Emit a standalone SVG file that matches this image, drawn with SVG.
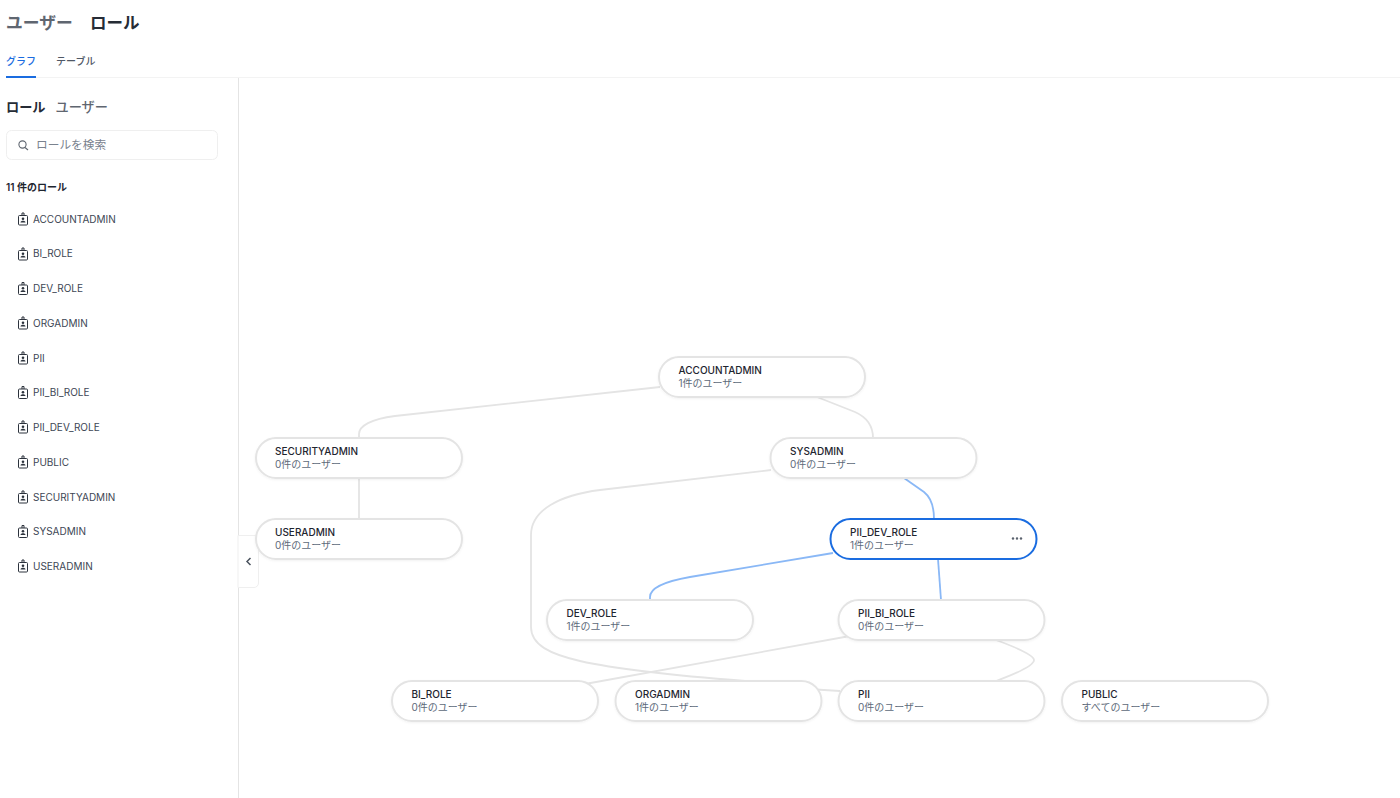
<svg xmlns="http://www.w3.org/2000/svg" width="1400" height="798" viewBox="0 0 1400 798">
<style>
text{font-family:Inter,"Noto Sans CJK JP","Noto Sans",sans-serif}
.t{font-size:10px;fill:#1e252f;font-weight:500}
.s{font-size:10px;fill:#5d6a7a}
.n{fill:#fff;stroke:#e4e4e4;stroke-width:2;filter:url(#sh)}
.c{fill:none;stroke:#e4e4e4;stroke-width:1.800}
.b{fill:none;stroke:#8ab8f6;stroke-width:1.800}
.i{font-size:10px;fill:#3d4654}
.ic{fill:none;stroke:#2c333d;stroke-width:1}
</style>
<defs>
<filter id="sh" x="-5%" y="-20%" width="110%" height="150%"><feDropShadow dx="0" dy="1" stdDeviation="1" flood-color="#000" flood-opacity=".05"/></filter>
<g id="badge"><rect x="-4.500" y="-3.500" width="9" height="9.500" rx="1" class="ic"/><path d="M-1 -3.500V-6H1V-3.500" class="ic"/><circle cx="0" cy="-.3" r="1.300" fill="#2c333d"/><path d="M-2.500 3.500C-2.500 1.300 2.500 1.300 2.500 3.500Z" fill="#2c333d"/></g>
</defs>
<rect width="1400" height="798" fill="#fff"/>
<g id="header">
<text x="6" y="29" font-size="16.800" font-weight="700" fill="#5f6670">ユーザー</text>
<text x="90" y="29" font-size="16.500" font-weight="700" fill="#262c36">ロール</text>
<text x="6" y="65" font-size="10" font-weight="500" fill="#1a6ce0">グラフ</text>
<text x="56" y="65" font-size="10" font-weight="500" fill="#4f5866">テーブル</text>
<rect x="6" y="76" width="30" height="2" fill="#1a6ce0"/>
<path d="M36 77.500H1400" stroke="#f3f3f3"/>
<path d="M238.500 78V798" stroke="#e4e4e4"/>
</g>
<g id="sidebar">
<text x="6" y="112" font-size="13.200" font-weight="700" fill="#262c36">ロール</text>
<text x="55.500" y="112" font-size="13.200" font-weight="500" fill="#5f6670">ユーザー</text>
<rect x="6.500" y="130.500" width="211" height="29" rx="5" fill="#fff" stroke="#efefef"/>
<circle cx="22.500" cy="144.500" r="3.600" fill="none" stroke="#5f6670" stroke-width="1.100"/>
<path d="M25 147.500L28 150" stroke="#5f6670" stroke-width="1.100"/>
<text x="36" y="149" font-size="11.700" fill="#7a828e">ロールを検索</text>
<text x="6" y="191" font-size="10" font-weight="600" fill="#1e252f">11 件のロール</text>
<use href="#badge" x="23" y="219"/><text class="i" x="33" y="222.500">ACCOUNTADMIN</text>
<use href="#badge" x="23" y="254"/><text class="i" x="33" y="257">BI_ROLE</text>
<use href="#badge" x="23" y="288.500"/><text class="i" x="33" y="292">DEV_ROLE</text>
<use href="#badge" x="23" y="323"/><text class="i" x="33" y="326.500">ORGADMIN</text>
<use href="#badge" x="23" y="358"/><text class="i" x="33" y="361.500">PII</text>
<use href="#badge" x="23" y="392.500"/><text class="i" x="33" y="396">PII_BI_ROLE</text>
<use href="#badge" x="23" y="427"/><text class="i" x="33" y="430.500">PII_DEV_ROLE</text>
<use href="#badge" x="23" y="462"/><text class="i" x="33" y="465.500">PUBLIC</text>
<use href="#badge" x="23" y="497"/><text class="i" x="33" y="500.500">SECURITYADMIN</text>
<use href="#badge" x="23" y="531.500"/><text class="i" x="33" y="535">SYSADMIN</text>
<use href="#badge" x="23" y="566"/><text class="i" x="33" y="569.500">USERADMIN</text>
</g>
<g id="connectors">
<path class="c" d="M359 438V434C359 426 371 419 395 416L660 387"/>
<path class="c" d="M817 397L855 412Q873 420 873 438"/>
<path class="c" d="M359 478V519"/>
<path class="c" d="M771 470L600 490C560 495 531 510 531 535V627C531 645 550 654 580 661C620 670 680 676 745 681"/>
<path class="b" d="M904 478L924 492Q934 500 934 519"/>
<path class="b" d="M833 553L690 577C670 580.500 650 586 650 597V600"/>
<path class="b" d="M938 559L941 600"/>
<path class="c" d="M850 636L585 684"/>
<path class="c" d="M996 640Q1034 654 1034 660Q1034 667 996 681"/>
<path class="c" d="M808 689L840 691"/>
</g>
<g id="collapse">
<path d="M238 535.500H254a4.500 4.500 0 0 1 4.500 4.500V583a4.500 4.500 0 0 1-4.500 4.500H238Z" fill="#fff" stroke="#efefef"/>
<path d="M250.500 558L247 561.500L250.500 565" fill="none" stroke="#4a525e" stroke-width="1.500"/>
</g>
<g id="node-accountadmin"><rect class="n" x="659" y="357" width="206" height="40" rx="20"/><text class="t" x="678.500" y="374">ACCOUNTADMIN</text><text class="s" x="678.500" y="387">1件のユーザー</text></g>
<g id="node-securityadmin"><rect class="n" x="256" y="438" width="206" height="40" rx="20"/><text class="t" x="275" y="455">SECURITYADMIN</text><text class="s" x="275" y="468">0件のユーザー</text></g>
<g id="node-sysadmin"><rect class="n" x="770.500" y="438" width="206" height="40" rx="20"/><text class="t" x="790" y="455">SYSADMIN</text><text class="s" x="790" y="468">0件のユーザー</text></g>
<g id="node-useradmin"><rect class="n" x="256" y="519" width="206" height="40" rx="20"/><text class="t" x="275" y="536">USERADMIN</text><text class="s" x="275" y="549">0件のユーザー</text></g>
<g id="node-pii-dev-role"><rect x="830.500" y="519" width="206" height="40" rx="20" fill="#fff" stroke="#1a6ce0" stroke-width="2"/><text class="t" x="850" y="536">PII_DEV_ROLE</text><text class="s" x="850" y="549">1件のユーザー</text><circle cx="1013" cy="538.500" r="1.200" fill="#5a626e"/><circle cx="1017" cy="538.500" r="1.200" fill="#5a626e"/><circle cx="1021" cy="538.500" r="1.200" fill="#5a626e"/></g>
<g id="node-dev-role"><rect class="n" x="547" y="600" width="206" height="40" rx="20"/><text class="t" x="566.500" y="617">DEV_ROLE</text><text class="s" x="566.500" y="630">1件のユーザー</text></g>
<g id="node-pii-bi-role"><rect class="n" x="838.500" y="600" width="206" height="40" rx="20"/><text class="t" x="858" y="617">PII_BI_ROLE</text><text class="s" x="858" y="630">0件のユーザー</text></g>
<g id="node-bi-role"><rect class="n" x="392" y="681" width="206" height="40" rx="20"/><text class="t" x="411.500" y="698">BI_ROLE</text><text class="s" x="411.500" y="711">0件のユーザー</text></g>
<g id="node-orgadmin"><rect class="n" x="615.500" y="681" width="206" height="40" rx="20"/><text class="t" x="635" y="698">ORGADMIN</text><text class="s" x="635" y="711">1件のユーザー</text></g>
<g id="node-pii"><rect class="n" x="838.500" y="681" width="206" height="40" rx="20"/><text class="t" x="858" y="698">PII</text><text class="s" x="858" y="711">0件のユーザー</text></g>
<g id="node-public"><rect class="n" x="1062" y="681" width="206" height="40" rx="20"/><text class="t" x="1081.500" y="698">PUBLIC</text><text class="s" x="1081.500" y="711">すべてのユーザー</text></g>
</svg>
